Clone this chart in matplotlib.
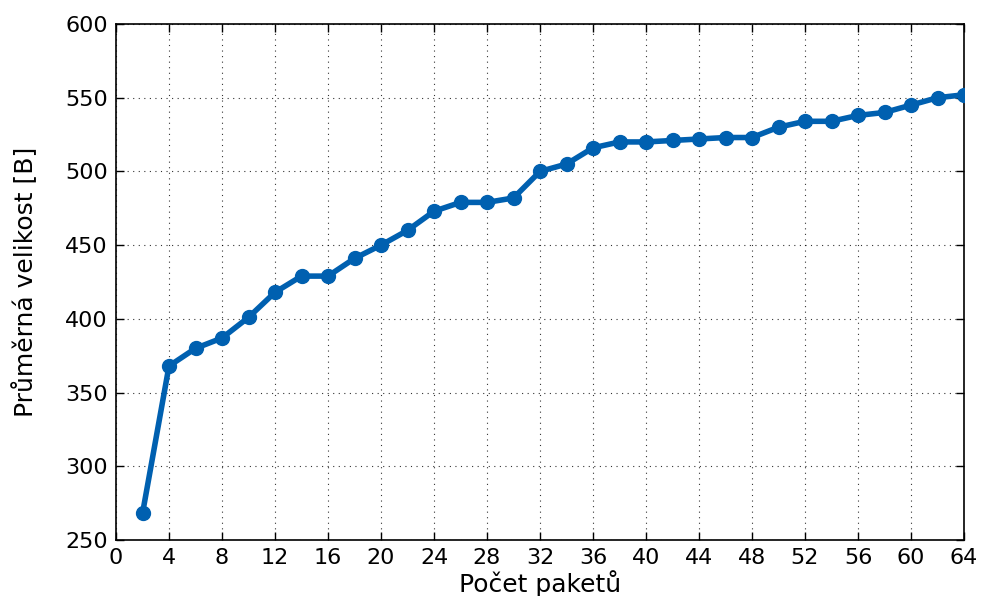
import numpy as np
import matplotlib
matplotlib.use("Agg")
import matplotlib.pyplot as plt

# pocet paketu a prumerna velikost
pakety = list(range(2, 65, 2))
velikost = [268, 368, 380, 387, 401, 418, 429, 429, 441, 450,
            460, 473, 479, 479, 482, 500, 505, 516, 520, 520,
            521, 522, 523, 523, 530, 534, 534, 538, 540, 545,
            550, 552]

x_ticks = list(range(0, 65, 4))
y_ticks = list(range(250, 601, 50))

fig = plt.figure(figsize=(9.83, 5.96), dpi=100)
ax = fig.add_axes([116 / 983, 56 / 596, 848 / 983, 516 / 596])

ax.plot(pakety, velikost, color="#0060b0", linewidth=4,
        marker="o", markersize=10, markeredgecolor="#0060b0", zorder=3)

ax.set_xlim(0, 64)
ax.set_ylim(250, 600)
ax.set_xticks(x_ticks)
ax.set_yticks(y_ticks)
ax.grid(True, linestyle=(0, (1, 4)), color="black", linewidth=0.8, alpha=0.8)
ax.tick_params(direction="in", top=True, right=True, length=6,
               labelsize=16, width=1, pad=6)
for s in ax.spines.values():
    s.set_linewidth(1.2)

ax.set_xlabel("Počet paketů", fontsize=18, labelpad=1)
ax.set_ylabel("Průměrná velikost [B]", fontsize=18, labelpad=19)

fig.savefig("out.png", dpi=100)
